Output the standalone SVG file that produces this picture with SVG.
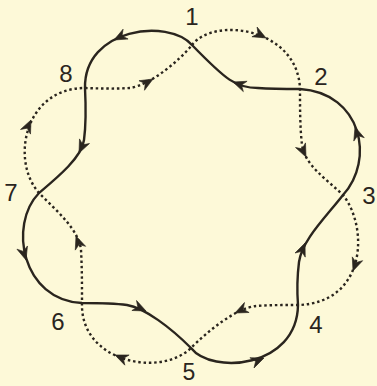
<svg xmlns="http://www.w3.org/2000/svg" xmlns:xlink="http://www.w3.org/1999/xlink" width="377" height="386" viewBox="0 0 377 386">
<style>
.bg{fill:#fdf9d8}
.solid{fill:none;stroke:#2a251e;stroke-width:2.4;stroke-linejoin:round}
.dot{fill:none;stroke:#2a251e;stroke-width:2.4;stroke-dasharray:2.5 2.8}
.ah{fill:#2a251e;stroke:#2a251e;stroke-width:0.6;stroke-linejoin:round}
.lbl{font-family:"Liberation Sans",Arial,sans-serif;font-size:24px;fill:#2a251e;text-anchor:middle}
</style>
<defs>
<path id="ah" d="M0,0 L-13,-5.5 L-9,0 L-13,5.5 Z"/>
</defs>
<rect class="bg" x="0" y="0" width="377" height="386"/>
<g id="connectors">
<path id="solid-curve" class="solid" d="M192,45 C168,18 84,28 85,88 C86,108 86,125 84,140 C82,157 58,177 39,193 C8,225 22,300 82,303 C97,303 112,303 127,305 C145,308 171,328 191,348 C212,375 297,368 298,305 C297,292 297,278 299,262 C302,240 326,217 343,195 C375,160 362,93 300,89 C286,89 272,89 258,88 C236,88 226,80 192,45 Z"/>
<path id="dotted-curve" class="dot" d="M192,45 C214,16 298,28 300,89 C300,108 300,128 302,145 C305,165 325,178 343,195 C369,228 366,303 298,305 C284,305 270,305 256,306 C236,308 208,331 191,348 C160,378 80,362 82,303 C82,285 82,268 81,250 C79,230 57,211 39,193 C10,160 25,88 85,88 C100,88.5 115,89 130,88 C150,85 178,62 192,45 Z"/>
<g class="ah">
<use xlink:href="#ah" transform="translate(114,40) rotate(153)"/>
<use xlink:href="#ah" transform="translate(79,153) rotate(115)"/>
<use xlink:href="#ah" transform="translate(26,260) rotate(73)"/>
<use xlink:href="#ah" transform="translate(146,311) rotate(25)"/>
<use xlink:href="#ah" transform="translate(264,358) rotate(-22)"/>
<use xlink:href="#ah" transform="translate(305,243) rotate(-68)"/>
<use xlink:href="#ah" transform="translate(355,127) rotate(-108)"/>
<use xlink:href="#ah" transform="translate(233,82) rotate(-160)"/>
<use xlink:href="#ah" transform="translate(266,38) rotate(28)"/>
<use xlink:href="#ah" transform="translate(306,157) rotate(65)"/>
<use xlink:href="#ah" transform="translate(353,271) rotate(110)"/>
<use xlink:href="#ah" transform="translate(235,313) rotate(155)"/>
<use xlink:href="#ah" transform="translate(115,355) rotate(-157)"/>
<use xlink:href="#ah" transform="translate(76,236) rotate(-110)"/>
<use xlink:href="#ah" transform="translate(31,120) rotate(-65)"/>
<use xlink:href="#ah" transform="translate(153,79) rotate(-30)"/>
</g>
</g>
<g id="node-1"><text class="lbl" x="192" y="25">1</text></g>
<g id="node-2"><text class="lbl" x="321" y="85">2</text></g>
<g id="node-3"><text class="lbl" x="369" y="204">3</text></g>
<g id="node-4"><text class="lbl" x="316" y="333">4</text></g>
<g id="node-5"><text class="lbl" x="189" y="380" style="font-size:23px">5</text></g>
<g id="node-6"><text class="lbl" x="58" y="330">6</text></g>
<g id="node-7"><text class="lbl" x="11" y="201">7</text></g>
<g id="node-8"><text class="lbl" x="66" y="82">8</text></g>
</svg>
